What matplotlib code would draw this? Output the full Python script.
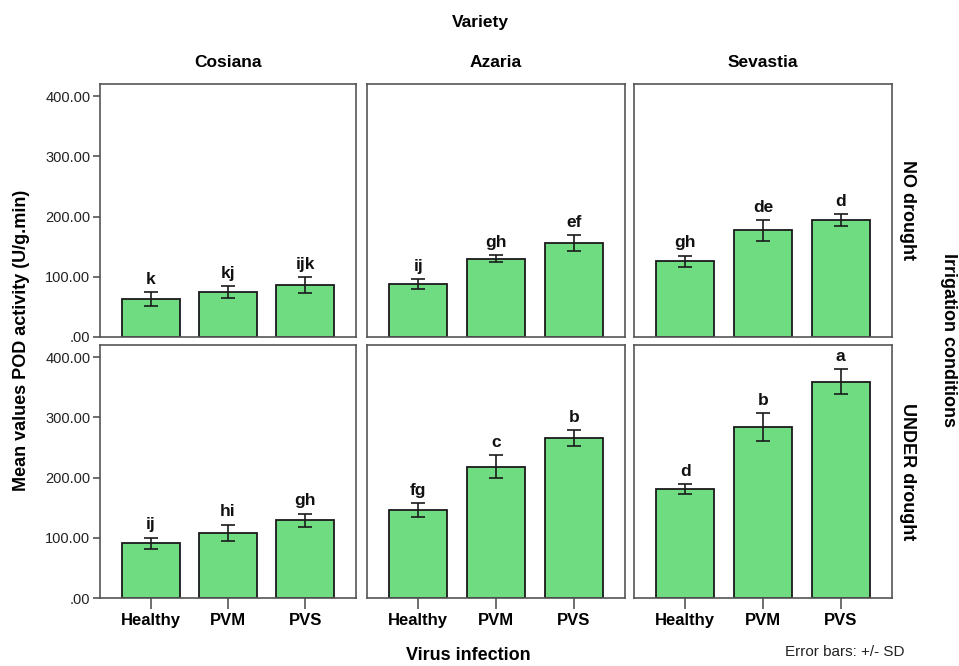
import matplotlib.pyplot as plt

VARIETIES = ["Cosiana", "Azaria", "Sevastia"]
CONDITIONS = ["NO drought", "UNDER drought"]
VIRUS = ["Healthy", "PVM", "PVS"]

# mean values, [condition][variety][virus]
MEANS_NO = [[63, 74, 86], [88, 130, 156], [126, 177, 194]]
SD_NO = [[11, 10, 13], [8, 6, 13], [9, 17, 10]]
LETTERS_NO = [["k", "kj", "ijk"], ["ij", "gh", "ef"], ["gh", "de", "d"]]

MEANS_UNDER = [[91, 108, 129], [146, 218, 266], [181, 284, 359]]
SD_UNDER = [[9, 14, 11], [11, 19, 13], [8, 23, 21]]
LETTERS_UNDER = [["ij", "hi", "gh"], ["fg", "c", "b"], ["d", "b", "a"]]

YTICKS = [0, 100, 200, 300, 400]
YTICKLABELS = [".00", "100.00", "200.00", "300.00", "400.00"]

plt.rcParams['font.family'] = ['Liberation Sans', 'DejaVu Sans']

W, H = 959, 666
fig = plt.figure(figsize=(W / 100, H / 100), dpi=100)

col_x = [(100, 356), (367, 625), (634, 892)]
row_y = [(84, 337), (345, 598)]

means = [MEANS_NO, MEANS_UNDER]
sds = [SD_NO, SD_UNDER]
letters = [LETTERS_NO, LETTERS_UNDER]

for r in range(2):
    for c in range(3):
        x0, x1 = col_x[c]
        y0, y1 = row_y[r]
        ax = fig.add_axes([x0 / W, 1 - y1 / H, (x1 - x0) / W, (y1 - y0) / H])
        xs = list(range(len(VIRUS)))
        ax.bar(xs, means[r][c], width=0.75, color="#6fdc82",
               edgecolor="#1a1a1a", linewidth=1.3, zorder=2)
        ax.errorbar(xs, means[r][c], yerr=sds[r][c], fmt="none",
                    ecolor="#1a1a1a", elinewidth=1.2, capsize=5,
                    capthick=1.2, zorder=3)
        for xi, m, s, lab in zip(xs, means[r][c], sds[r][c], letters[r][c]):
            ax.text(xi, m + s + 9, lab, ha="center", va="bottom",
                    fontsize=12.5, fontweight="bold", color="#111111")
        ax.set_xlim(-0.66, 2.66)
        ax.set_ylim(0, 420)
        for sp in ax.spines.values():
            sp.set_color("#555555")
            sp.set_linewidth(1.2)
        if c == 0:
            ax.set_yticks(YTICKS)
            ax.set_yticklabels(YTICKLABELS, fontsize=10.5, color="#222222")
            ax.tick_params(axis="y", length=5, width=1.2, color="#555555",
                           pad=2)
        else:
            ax.set_yticks([])
        if r == 1:
            ax.set_xticks(xs)
            ax.set_xticklabels(VIRUS, fontsize=12, fontweight="bold")
            ax.tick_params(axis="x", length=8, width=1.2, color="#555555",
                           pad=3)
        else:
            ax.set_xticks([])
        if r == 0:
            ax.text(0.5, 1.055, VARIETIES[c], transform=ax.transAxes,
                    ha="center", va="bottom", fontsize=12.5, fontweight="bold")
        if c == 2:
            ax.text(1.06, 0.5, CONDITIONS[r], transform=ax.transAxes,
                    rotation=-90, ha="center", va="center", fontsize=13,
                    fontweight="bold")

fig.text(480 / W, 1 - 22 / H, "Variety", ha="center", va="center",
         fontsize=12.5, fontweight="bold")
fig.text(22 / W, 1 - 340 / H, "Mean values POD activity (U/g.min)",
         rotation=90, ha="center", va="center", fontsize=13,
         fontweight="bold")
fig.text(948 / W, 1 - 340 / H, "Irrigation conditions", rotation=-90,
         ha="center", va="center", fontsize=13, fontweight="bold")
fig.text(468 / W, 1 - 656 / H, "Virus infection", ha="center", va="center",
         fontsize=13, fontweight="bold")
fig.text(845 / W, 1 - 652 / H, "Error bars: +/- SD", ha="center",
         va="center", fontsize=11, color="#222222")

fig.savefig("out.png", dpi=100)
